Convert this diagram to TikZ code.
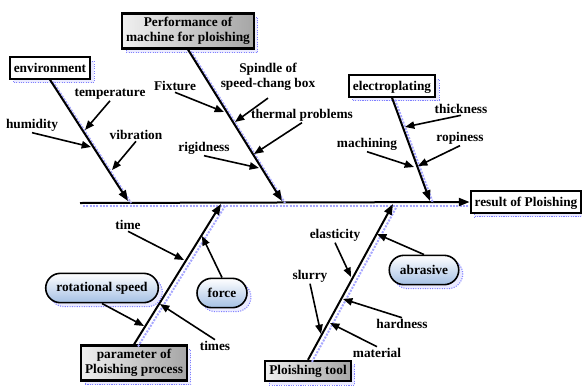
\documentclass[tikz,border=0pt]{standalone}
\usepackage{fontspec}
\setmainfont{Liberation Serif}
\usetikzlibrary{arrows.meta, calc, shadows}

\definecolor{pillblue}{RGB}{165,192,228}

\tikzset{
  lbl/.style={font=\bfseries\fontsize{10}{11}\selectfont, inner sep=1pt},
  boxshadow/.style={general shadow={shadow xshift=3pt, shadow yshift=-3pt,
    fill=blue!8, draw=blue!50, densely dotted, line width=0.8pt}},
  plainbox/.style={lbl, draw, line width=1.6pt, fill=white, inner xsep=3pt,
    inner ysep=3pt, text height=8pt, text depth=2pt, boxshadow},
  graybox/.style={lbl, draw, line width=1.6pt, left color=gray!12, right color=gray!70,
    align=center, inner sep=3pt, boxshadow},
  pillbox/.style={lbl, draw, line width=1.2pt, rounded corners=11pt, top color=white,
    bottom color=pillblue, minimum height=22pt, inner xsep=8pt, boxshadow},
  bone/.style={line width=1.5pt, -{Triangle[length=8pt,width=6pt]}},
  boneshade/.style={line width=1.5pt, blue!35, densely dotted},
  cause/.style={line width=1.2pt, -{Triangle[length=7pt,width=5.5pt]}}
}

\begin{document}
\begin{tikzpicture}[x=0.75pt,y=-0.75pt]
\useasboundingbox (0,0) rectangle (582,390);

% effect and spine
\node[plainbox] (result) at (526,202) {result of Ploishing};
\coordinate (spinestart) at (80,203);
\draw[boneshade] ($(spinestart)+(3,3)$) -- ($(result.west)+(0,4)$);
\draw[bone] (spinestart) -- (result.west);

% main causes
\node[plainbox] (env) at (50,68) {environment};
\node[graybox] (perf) at (188,31) {Performance of\\machine for ploishing};
\node[plainbox] (elec) at (392,86) {electroplating};
\node[graybox] (param) at (134,363) {parameter of\\Ploishing process};
\node[graybox] (tool) at (308,371) {Ploishing tool};

\coordinate (envtip) at (128,201);
\coordinate (perftip) at (282,201);
\coordinate (electip) at (430,201);
\coordinate (paramtip) at (221,204);
\coordinate (tooltip) at (393,204);

\draw[boneshade] ($(env.south)+(3,2)$) -- ($(envtip)+(3,2)$);
\draw[boneshade] ($(perf.south)+(3,2)$) -- ($(perftip)+(3,2)$);
\draw[boneshade] ($(elec.south)+(3,2)$) -- ($(electip)+(3,2)$);
\draw[boneshade] ($(param.north)+(4,2)$) -- ($(paramtip)+(4,2)$);
\draw[boneshade] ($(tool.north)+(4,2)$) -- ($(tooltip)+(4,2)$);

\draw[bone] (env.south) -- (envtip);
\draw[bone] (perf.south) -- (perftip);
\draw[bone] (elec.south) -- (electip);
\draw[bone] (param.north) -- (paramtip);
\draw[bone] (tool.north) -- (tooltip);

% environment
\node[lbl] (temp) at (110,94) {temperature};
\node[lbl] (hum) at (32,125) {humidity};
\node[lbl] (vib) at (136,135) {vibration};
\draw[cause] (temp.south) -- (85,130);
\draw[cause] (hum.south) -- (91,147);
\draw[cause] (vib.south) -- (112,170);

% machine
\node[lbl] (fix) at (175,86) {Fixture};
\node[lbl, align=center] (spin) at (268,77) {Spindle of\\speed-chang box};
\node[lbl] (therm) at (302,115) {thermal problems};
\node[lbl] (rigid) at (204,148) {rigidness};
\draw[cause] (fix.south) -- (224,112);
\draw[cause] ($(spin.south)+(0,6)$) -- (235,122);
\draw[cause] (therm.south) -- (254,154);
\draw[cause] (rigid.south) -- (259,168);

% electroplating
\node[lbl] (thick) at (461,109) {thickness};
\node[lbl] (rope) at (460,138) {ropiness};
\node[lbl] (mach) at (367,144) {machining};
\draw[cause] (thick.south) -- (405,127);
\draw[cause] (rope.south) -- (418,166);
\draw[cause] (mach.south) -- (414,167);

% process parameters
\node[lbl] (time) at (128,225) {time};
\node[pillbox] (rot) at (102,288) {rotational speed};
\node[pillbox] (force) at (222,293) {force};
\node[lbl] (times) at (215,346) {times};
\draw[cause] (time.south) -- (184,260);
\draw[cause] (rot.south) -- (144,326);
\draw[cause] (force.north) -- (202,236);
\draw[cause] (times.north) -- (160,304);

% polishing tool
\node[lbl] (elast) at (335,235) {elasticity};
\node[lbl] (slurry) at (310,276) {slurry};
\node[pillbox] (abr) at (424,270) {abrasive};
\node[lbl] (hard) at (402,324) {hardness};
\node[lbl] (mat) at (377,353) {material};
\draw[cause] (elast.south) -- (351,277);
\draw[cause] (slurry.south) -- (321,334);
\draw[cause] (abr.north) -- (377,234);
\draw[cause] (hard.north) -- (343,299);
\draw[cause] (mat.north) -- (330,323);
\end{tikzpicture}
\end{document}
